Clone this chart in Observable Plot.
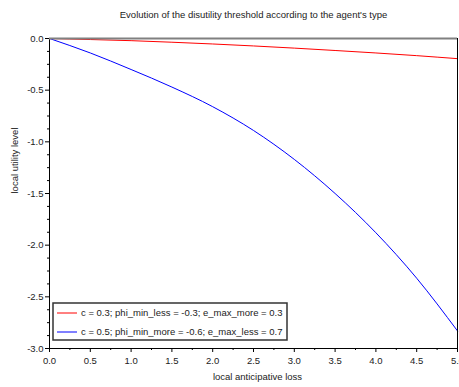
<!DOCTYPE html>
<html>
<head>
<meta charset="utf-8">
<script src="https://cdn.jsdelivr.net/npm/d3@7"></script>
<script src="https://cdn.jsdelivr.net/npm/@observablehq/plot@0.6"></script>
<style>
  html, body { margin: 0; padding: 0; background: #fff; }
  #chart svg { display: block; font-family: "Liberation Sans", Arial, sans-serif; }
</style>
</head>
<body>
<div id="chart"></div>
<script>
// Local anticipative loss (x) and the resulting local utility level for each agent type
const loss = [0, 0.5, 1.0, 1.5, 2.0, 2.5, 3.0, 3.5, 4.0, 4.5, 5.0];
const utilityLow = [0, -0.010, -0.021, -0.036, -0.053, -0.072, -0.093, -0.116, -0.140, -0.166, -0.195];
const utilityHigh = [0, -0.14, -0.30, -0.47, -0.66, -0.89, -1.17, -1.50, -1.88, -2.32, -2.83];

const seriesLabels = [
  "c = 0.3; phi_min_less = -0.3; e_max_more = 0.3",
  "c = 0.5; phi_min_more = -0.6; e_max_less = 0.7"
];
const seriesColors = ["#ff0000", "#0000ff"];

const xTicks = [0, 0.5, 1, 1.5, 2, 2.5, 3, 3.5, 4, 4.5, 5];
const xMinorTicks = [0.25, 0.75, 1.25, 1.75, 2.25, 2.75, 3.25, 3.75, 4.25, 4.75];
const yTicks = [0, -0.5, -1, -1.5, -2, -2.5, -3];
const yMinorTicks = d3.range(0, 24).map(i => -i * 0.125).filter(v => !yTicks.includes(v));

const title = "Evolution of the disutility threshold according to the agent's type";
const xLabel = "local anticipative loss";
const yLabel = "local utility level";

const rows = [
  ...loss.map((x, i) => ({x, y: utilityLow[i], s: 0})),
  ...loss.map((x, i) => ({x, y: utilityHigh[i], s: 1}))
];

const fmt = d => d.toFixed(1);
const textColor = "#222";

const plot = Plot.plot({
  width: 459,
  height: 387,
  marginLeft: 49,
  marginRight: 2,
  marginTop: 38,
  marginBottom: 39,
  style: {fontFamily: "Liberation Sans, Arial, sans-serif", fontSize: "9.5px", color: textColor, background: "#fff"},
  x: {domain: [0, 5]},
  y: {domain: [-3, 0]},
  marks: [
    Plot.line(rows.filter(d => d.s === 0), {x: "x", y: "y", stroke: seriesColors[0], strokeWidth: 1, curve: "monotone-x"}),
    Plot.line(rows.filter(d => d.s === 1), {x: "x", y: "y", stroke: seriesColors[1], strokeWidth: 1, curve: "monotone-x"}),
    Plot.frame({stroke: "#000", strokeWidth: 1}),
    Plot.ruleY([0], {stroke: "#808080", strokeWidth: 2}),
    Plot.axisX(xTicks, {tickSize: 4, tickPadding: 5, tickFormat: fmt, stroke: "#000", fill: textColor, fontSize: 9.5, label: null}),
    Plot.axisX(xMinorTicks, {tickSize: 2, stroke: "#000", fill: "none", label: null}),
    Plot.axisY(yTicks, {tickSize: 4, tickPadding: 2, tickFormat: fmt, stroke: "#000", fill: textColor, fontSize: 9.5, label: null}),
    Plot.axisY(yMinorTicks, {tickSize: 2, stroke: "#000", fill: "none", label: null}),
    Plot.text([title], {frameAnchor: "top", dy: -27, fontSize: 9.5, fill: textColor}),
    Plot.text([xLabel], {frameAnchor: "bottom", dy: 31, dx: 4, fontSize: 9.5, fill: textColor}),
    Plot.text([yLabel], {frameAnchor: "left", dx: -35, rotate: -90, fontSize: 9.5, fill: textColor})
  ]
});

// Legend box drawn in the lower-left corner of the frame
const svg = d3.select(plot);
const boxX = 53, boxY = 303, boxW = 234, boxH = 37;
const legend = svg.append("g").attr("text-anchor", "start");
legend.append("rect")
  .attr("x", boxX).attr("y", boxY).attr("width", boxW).attr("height", boxH)
  .attr("fill", "#fff").attr("stroke", "#333").attr("stroke-width", 1.5);
seriesLabels.forEach((label, i) => {
  const y = boxY + 10 + i * 19;
  legend.append("line")
    .attr("x1", boxX + 4).attr("x2", boxX + 24).attr("y1", y).attr("y2", y)
    .attr("stroke", seriesColors[i]).attr("stroke-width", 1);
  legend.append("text")
    .attr("x", boxX + 28).attr("y", y).attr("dy", "0.35em")
    .attr("text-anchor", "start")
    .attr("font-size", 9.5).attr("fill", textColor)
    .text(label);
});

document.getElementById("chart").appendChild(plot);
</script>
</body>
</html>
